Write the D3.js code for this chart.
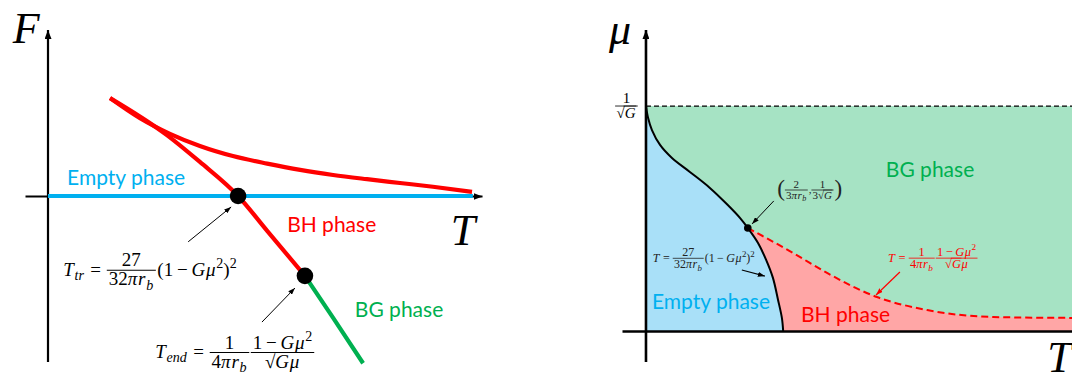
<!DOCTYPE html>
<html><head><meta charset="utf-8">
<script src="https://cdn.jsdelivr.net/npm/d3@7"></script>
<style>
html,body{margin:0;padding:0;background:#fff;}
svg{display:block;}
</style></head><body>
<svg id="chart" width="1072" height="372"></svg>
<script>
// ---------- Free-energy panel F(T) ----------
const upperBranchT = [1.43, 2.12, 2.81, 3.50, 4.26, 5.05, 5.81, 6.57, 7.35, 8.11, 8.87, 9.77];
const upperBranchF = [2.33, 1.85, 1.48, 1.19, 0.95, 0.77, 0.62, 0.50, 0.40, 0.31, 0.22, 0.10];
const bhBranchT = [1.43, 2.74, 3.50, 4.38, 5.05, 5.92];
const bhBranchF = [2.33, 1.45, 0.81, 0.00, -0.83, -1.90];
const bgBranchT = [5.92, 6.57, 7.26];
const bgBranchF = [-1.90, -2.90, -3.98];
const emptyT = [0, 9.79];
const emptyF = [0, 0];
const markerT = [4.38, 5.92];      // T_tr, T_end
const markerF = [0.00, -1.90];

// ---------- Phase diagram (T, mu) ----------
const coexT  = [0, 0.05, 0.14, 0.33, 0.61, 1.03, 1.50, 1.92, 2.21, 2.39, 2.63, 2.82, 2.98, 3.10, 3.19, 3.22];
const coexMu = [1.000, 0.947, 0.893, 0.827, 0.769, 0.707, 0.636, 0.560, 0.502, 0.458, 0.391, 0.316, 0.236, 0.138, 0.058, 0];
const endT  = [2.39, 3.45, 4.25, 5.42, 6.60, 8.15, 10.0];
const endMu = [0.458, 0.347, 0.258, 0.151, 0.093, 0.062, 0.058];
const tripleT = [2.39];
const tripleMu = [0.458];
const muTop = [1];      // mu = 1/sqrt(G)
const Tmax = [10];

const zip = (a, b) => a.map((v, i) => [v, b[i]]);

const RED = "#ff0000", BLUE = "#00b0f0", GREEN = "#00b050";
const LABEL_FONT = "Lato, 'Open Sans', sans-serif";
const MATH_FONT = "'Liberation Serif', 'DejaVu Serif', serif";

const svg = d3.select("#chart");
const defs = svg.append("defs");
function arrowMarker(id, color, w, h) {
  defs.append("marker").attr("id", id).attr("viewBox", `0 0 ${w} ${h}`)
    .attr("refX", w).attr("refY", h / 2).attr("markerWidth", w).attr("markerHeight", h)
    .attr("markerUnits", "userSpaceOnUse").attr("orient", "auto")
    .append("path").attr("d", `M0,0L${w},${h / 2}L0,${h}Z`).attr("fill", color);
}
arrowMarker("ah-black", "#000", 7, 5);
arrowMarker("ah-red", RED, 7, 5);
arrowMarker("ah-axis", "#000", 9, 7);

// ---- small math typesetter: rows of tokens, fractions, radicals ----
function mathRow(parent, tokens, fs, color) {
  const g = parent.append("g");
  let cx = 0;
  tokens.forEach(tok => {
    if (typeof tok === "string") tok = { s: tok };
    if (tok.sp !== undefined) { cx += fs * tok.sp; return; }
    if (tok.frac) {
      const num = mathRow(g, tok.frac[0], fs, color);
      const den = mathRow(g, tok.frac[1], fs, color);
      const w = Math.max(num.width, den.width) + fs * 0.2;
      const barY = -fs * 0.3;
      g.append("line").attr("x1", cx).attr("x2", cx + w).attr("y1", barY).attr("y2", barY)
        .attr("stroke", color).attr("stroke-width", Math.max(0.8, fs * 0.055));
      num.g.attr("transform", `translate(${cx + (w - num.width) / 2},${barY - fs * 0.2})`);
      den.g.attr("transform", `translate(${cx + (w - den.width) / 2},${barY + fs * 0.8})`);
      cx += w + fs * 0.08;
      return;
    }
    if (tok.sqrt) {
      const t = g.append("text").attr("x", cx).attr("y", 0).attr("font-size", fs)
        .attr("fill", color).text("√");
      const sw = t.node().getComputedTextLength();
      const inner = mathRow(g, tok.sqrt, fs, color);
      inner.g.attr("transform", `translate(${cx + sw},0)`);
      g.append("line").attr("x1", cx + sw * 0.85).attr("x2", cx + sw + inner.width)
        .attr("y1", -fs * 0.8).attr("y2", -fs * 0.8)
        .attr("stroke", color).attr("stroke-width", Math.max(0.7, fs * 0.05));
      cx += sw + inner.width;
      return;
    }
    if (tok.paren) {
      const t = g.append("text").attr("x", cx).attr("y", fs * tok.dy).attr("font-size", fs * tok.paren)
        .attr("fill", color).text(tok.s);
      cx += t.node().getComputedTextLength();
      return;
    }
    const small = tok.sub || tok.sup;
    const size = small ? fs * 0.74 : fs;
    const dy = tok.sub ? fs * 0.22 : tok.sup ? -fs * 0.42 : 0;
    const t = g.append("text").attr("x", cx).attr("y", dy).attr("font-size", size)
      .attr("font-style", tok.i ? "italic" : "normal").attr("fill", color).text(tok.s);
    cx += t.node().getComputedTextLength() + (tok.i ? fs * 0.04 : 0);
  });
  return { g, width: cx };
}
function math(parent, tokens, x, y, fs, color) {
  const layer = parent.append("g").attr("font-family", MATH_FONT);
  const r = mathRow(layer, tokens, fs, color);
  r.g.attr("transform", `translate(${x},${y})`);
  return r;
}
const I = s => ({ s, i: true });
const sub = s => ({ s, i: true, sub: true });
const sup = s => ({ s, sup: true });
const SP = w => ({ sp: w });
const rb = [{ s: "π", i: true }, I("r"), sub("b")];

// =========================== LEFT PANEL ===========================
const xL = d3.scaleLinear().domain([-0.53, 10]).range([25, 482]);
const yL = d3.scaleLinear().domain([-3.95, 3.95]).range([362, 30]);
const left = svg.append("g");

// axes
left.append("g").attr("transform", `translate(0,${yL(0)})`)
  .call(d3.axisBottom(xL).tickValues([]).tickSizeOuter(0))
  .call(g => g.select(".domain").attr("stroke-width", 2).attr("marker-end", "url(#ah-axis)"));
left.append("g").attr("transform", `translate(${xL(0)},0)`)
  .call(d3.axisLeft(yL).tickValues([]).tickSizeOuter(0))
  .call(g => g.select(".domain").attr("stroke-width", 2.2)
    .attr("d", `M0,${yL.range()[0]}V${yL.range()[1]}`).attr("marker-end", "url(#ah-axis)"));

const lineL = d3.line().x(d => xL(d[0])).y(d => yL(d[1])).curve(d3.curveMonotoneX);
left.append("path").attr("d", lineL(zip(emptyT, emptyF))).attr("fill", "none")
  .attr("stroke", BLUE).attr("stroke-width", 4.2);
left.append("path").attr("d", lineL(zip(upperBranchT, upperBranchF))).attr("fill", "none")
  .attr("stroke", RED).attr("stroke-width", 4.2);
left.append("path").attr("d", lineL(zip(bgBranchT, bgBranchF))).attr("fill", "none")
  .attr("stroke", GREEN).attr("stroke-width", 4.2);
left.append("path").attr("d", lineL(zip(bhBranchT, bhBranchF))).attr("fill", "none")
  .attr("stroke", RED).attr("stroke-width", 4.2);
left.selectAll("circle.mk").data(zip(markerT, markerF)).join("circle").attr("class", "mk")
  .attr("cx", d => xL(d[0])).attr("cy", d => yL(d[1])).attr("r", 8.3).attr("fill", "#000");

// axis titles
left.append("text").attr("x", xL(-0.81)).attr("y", yL(3.64)).attr("font-family", MATH_FONT)
  .attr("font-style", "italic").attr("font-size", 44).text("F");
left.append("text").attr("x", xL(9.28)).attr("y", yL(-1.17)).attr("font-family", MATH_FONT)
  .attr("font-style", "italic").attr("font-size", 44).text("T");

// phase labels
const phaseLabel = (g, x, y, txt, color) => g.append("text").attr("x", x).attr("y", y)
  .attr("font-family", LABEL_FONT).attr("font-size", 21).attr("fill", color).text(txt);
phaseLabel(left, xL(0.44), yL(0.27), "Empty phase", BLUE);
phaseLabel(left, xL(5.51), yL(-0.86), "BH phase", RED);
phaseLabel(left, xL(7.07), yL(-2.88), "BG phase", GREEN);

// annotations
left.append("line").attr("x1", xL(3.23)).attr("y1", yL(-1.09)).attr("x2", xL(4.22)).attr("y2", yL(-0.26))
  .attr("stroke", "#000").attr("stroke-width", 1).attr("marker-end", "url(#ah-black)");
left.append("line").attr("x1", xL(4.93)).attr("y1", yL(-3.0)).attr("x2", xL(5.69)).attr("y2", yL(-2.19))
  .attr("stroke", "#000").attr("stroke-width", 1).attr("marker-end", "url(#ah-black)");

math(left, [I("T"), sub("tr"), SP(0.3), "=", SP(0.3),
  { frac: [["27"], ["32", ...rb]] },
  "(1", SP(0.2), "−", SP(0.2), I("G"), I("μ"), sup("2"), ")", sup("2")],
  xL(0.35), yL(-1.90), 19, "#000");
math(left, [I("T"), sub("end"), SP(0.3), "=", SP(0.3),
  { frac: [["1"], ["4", ...rb]] },
  { frac: [["1", SP(0.2), "−", SP(0.2), I("G"), I("μ"), sup("2")], [{ sqrt: [I("G")] }, I("μ")]] }],
  xL(2.47), yL(-3.86), 19, "#000");

// =========================== RIGHT PANEL ===========================
const xR = d3.scaleLinear().domain([-0.563, 10]).range([622, 1072]);
const yR = d3.scaleLinear().domain([-0.138, 1.338]).range([362, 30]);
const right = svg.append("g");

const lineR = d3.line().x(d => xR(d[0])).y(d => yR(d[1]));
const coexPts = zip(coexT, coexMu);
const endPts = zip(endT, endMu);
const coexPath = lineR.curve(d3.curveCatmullRom.alpha(0.5))(coexPts);

// BG region: whole strip below mu = 1/sqrt(G)
right.append("rect").attr("x", xR(0)).attr("y", yR(muTop[0]))
  .attr("width", xR(Tmax[0]) - xR(0)).attr("height", yR(0) - yR(muTop[0])).attr("fill", "#a6e3c4");
// BH region: below the T_end line
right.append("path").attr("fill", "#ffa6a6")
  .attr("d", d3.area().x(d => xR(d[0])).y0(yR(0)).y1(d => yR(d[1])).curve(d3.curveMonotoneX)(endPts));
// Empty region: left of the transition line
right.append("path").attr("fill", "#a9e0f8")
  .attr("d", `M${xR(0)},${yR(0)}` + coexPath.replace(/^M/, "L") + "Z");

// boundaries
right.append("path").attr("d", coexPath).attr("fill", "none").attr("stroke", "#000").attr("stroke-width", 2);
right.append("path").attr("d", d3.line().x(d => xR(d[0])).y(d => yR(d[1])).curve(d3.curveMonotoneX)(endPts))
  .attr("fill", "none").attr("stroke", RED).attr("stroke-width", 2).attr("stroke-dasharray", "7,4");
right.append("line").attr("x1", xR(0)).attr("x2", xR(Tmax[0])).attr("y1", yR(muTop[0])).attr("y2", yR(muTop[0]))
  .attr("stroke", "#000").attr("stroke-width", 1.2).attr("stroke-dasharray", "5,3");

// axes
right.append("g").attr("transform", `translate(0,${yR(0)})`)
  .call(d3.axisBottom(xR).tickValues([]).tickSizeOuter(0))
  .call(g => g.select(".domain").attr("stroke-width", 2.6));
right.append("g").attr("transform", `translate(${xR(0)},0)`)
  .call(d3.axisLeft(yR).tickValues([]).tickSizeOuter(0))
  .call(g => g.select(".domain").attr("stroke-width", 2.6)
    .attr("d", `M0,${yR.range()[0]}V${yR.range()[1]}`).attr("marker-end", "url(#ah-axis)"));

right.selectAll("circle.tp").data(zip(tripleT, tripleMu)).join("circle").attr("class", "tp")
  .attr("cx", d => xR(d[0])).attr("cy", d => yR(d[1])).attr("r", 3.8).attr("fill", "#000");

// axis titles
right.append("text").attr("x", xR(-0.87)).attr("y", yR(1.276)).attr("font-family", MATH_FONT)
  .attr("font-style", "italic").attr("font-size", 44).text("μ");
right.append("text").attr("x", xR(9.42)).attr("y", yR(-0.183)).attr("font-family", MATH_FONT)
  .attr("font-style", "italic").attr("font-size", 44).text("T");

// tick label 1/sqrt(G)
{
  const r = math(right, [{ frac: [["1"], [{ sqrt: [I("G")] }]] }], 0, 0, 15, "#000");
  r.g.attr("transform", `translate(${xR(0) - 7 - r.width},${yR(muTop[0]) + 15 * 0.3})`);
}

phaseLabel(right, xR(5.63), yR(0.684), "BG phase", GREEN);
phaseLabel(right, xR(0.14), yR(0.098), "Empty phase", BLUE);
phaseLabel(right, xR(3.64), yR(0.04), "BH phase", RED);

// triple point coordinates
math(right, [{ s: "(", paren: 2.1, dy: 0.2 },
  { frac: [["2"], ["3", ...rb]] }, ",", { frac: [["1"], ["3", { sqrt: [I("G")] }]] },
  { s: ")", paren: 2.1, dy: 0.2 }],
  xR(3.08), yR(0.612), 11, "#222");
right.append("line").attr("x1", xR(3.00)).attr("y1", yR(0.578)).attr("x2", xR(2.49)).attr("y2", yR(0.476))
  .attr("stroke", "#000").attr("stroke-width", 1).attr("marker-end", "url(#ah-black)");

// transition-line formula
math(right, [I("T"), SP(0.25), "=", SP(0.25), { frac: [["27"], ["32", ...rb]] },
  "(1", SP(0.2), "−", SP(0.2), I("G"), I("μ"), sup("2"), ")", sup("2")],
  xR(0.16), yR(0.307), 12, "#222");
right.append("line").attr("x1", xR(2.25)).attr("y1", yR(0.271)).attr("x2", xR(2.79)).attr("y2", yR(0.244))
  .attr("stroke", "#000").attr("stroke-width", 1.2).attr("marker-end", "url(#ah-black)");

// endpoint-line formula
math(right, [I("T"), SP(0.25), "=", SP(0.25), { frac: [["1"], ["4", ...rb]] },
  { frac: [["1", SP(0.2), "−", SP(0.2), I("G"), I("μ"), sup("2")], [{ sqrt: [I("G")] }, I("μ")]] }],
  xR(5.68), yR(0.307), 12.5, RED);
right.append("line").attr("x1", xR(5.96)).attr("y1", yR(0.262)).attr("x2", xR(5.40)).attr("y2", yR(0.16))
  .attr("stroke", RED).attr("stroke-width", 1.2).attr("marker-end", "url(#ah-red)");
</script>
</body></html>
